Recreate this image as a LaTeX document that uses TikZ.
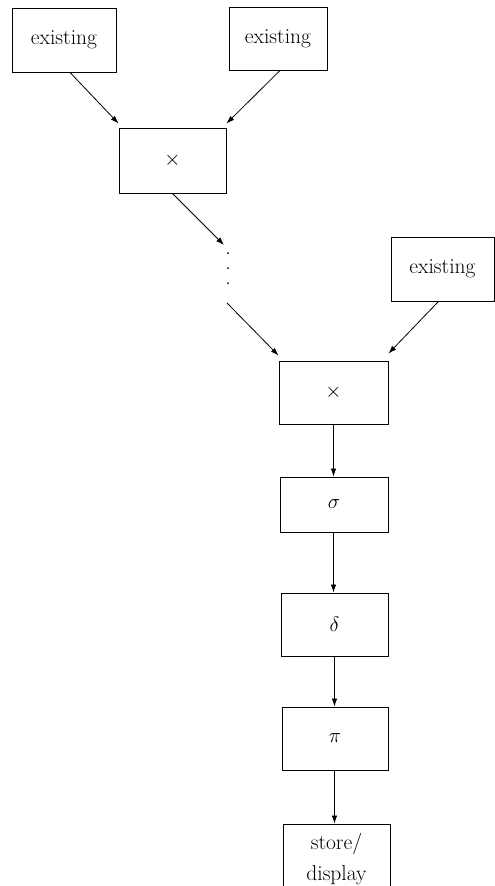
\documentclass[tikz,border=0pt]{standalone}
\usetikzlibrary{arrows.meta,calc}
\begin{document}
\begin{tikzpicture}[x=1pt,y=-1pt,
  box/.style={draw,line width=0.9pt,inner sep=0pt,align=center,
    font=\fontsize{21.5}{31}\selectfont},
  arr/.style={line width=0.8pt,-{Latex[length=8pt,width=5.5pt]}},
  dotn/.style={circle,fill,inner sep=0pt,minimum size=2pt}]
\useasboundingbox (0,0) rectangle (495,886);
\node[box,minimum width=104pt,minimum height=64pt] (b1) at (64,40) {existing};
\node[box,minimum width=98pt,minimum height=63pt] (b2) at (278,38.5) {existing};
\node[box,minimum width=107pt,minimum height=65pt] (x1) at (172.5,160.5) {$\times$};
\node[dotn] (d1) at (228,253) {};
\node[dotn] (d2) at (228,268) {};
\node[dotn] (d3) at (228,283) {};
\coordinate (c1) at (224,245);
\coordinate (c2) at (227,303);
\node[box,minimum width=103pt,minimum height=64pt] (e3) at (442.5,269) {existing};
\node[box,minimum width=109pt,minimum height=63pt] (x2) at (333.5,392.5) {$\times$};
\node[box,minimum width=108pt,minimum height=55pt] (s) at (334,504.5) {$\sigma$};
\node[box,minimum width=107pt,minimum height=63pt] (dl) at (334.5,624.5) {$\delta$};
\node[box,minimum width=106pt,minimum height=63pt] (p) at (335,738.5) {$\pi$};
\node[box,minimum width=107pt,minimum height=70pt] (st) at (336.5,859) {store/\\display};
\draw[arr] ([xshift=6pt]b1.south) -- ([yshift=4pt]x1.north west);
\draw[arr] ([xshift=2pt]b2.south) -- ([yshift=4pt]x1.north east);
\draw[arr] (x1.south) -- (c1);
\draw[arr] (c2) -- ([yshift=5pt]x2.north west);
\draw[arr] ([xshift=-4pt]e3.south) -- ([yshift=7pt]x2.north east);
\draw[arr] (x2.south) -- (x2.south |- s.north);
\draw[arr] (s.south -| x2.south) -- (x2.south |- dl.north);
\draw[arr] (dl.south) -- (dl.south |- p.north);
\draw[arr] (p.south -| dl.south) -- (dl.south |- st.north);
\end{tikzpicture}
\end{document}
